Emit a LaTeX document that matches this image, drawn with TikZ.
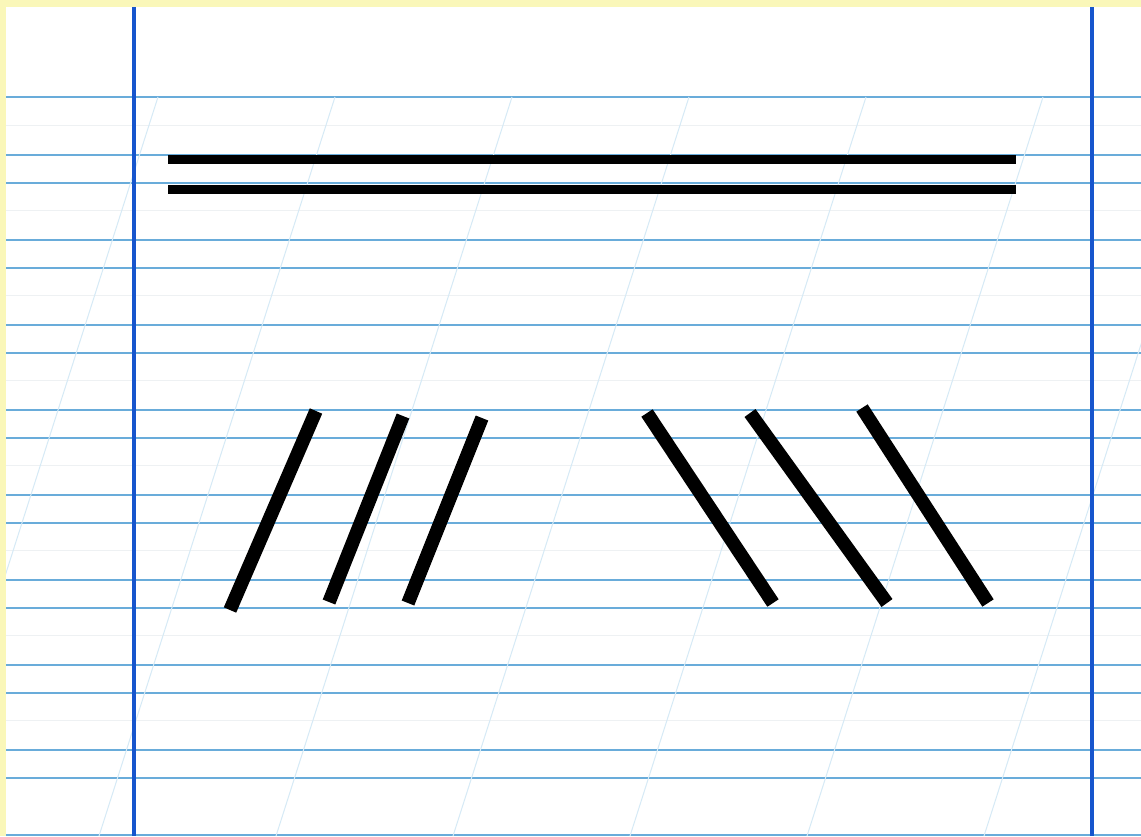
\documentclass[tikz,border=0pt]{standalone}

\definecolor{amarillo}{RGB}{250,247,185}
\definecolor{azulrenglon}{RGB}{105,172,218}
\definecolor{azulmargen}{RGB}{22,85,205}
\definecolor{azuldiagonal}{RGB}{214,234,246}
\definecolor{grisrenglon}{RGB}{238,241,243}

\tikzset{
	renglon/.style={draw=azulrenglon, line width=1.6pt},
	tenue/.style={draw=grisrenglon, line width=1pt},
	margen/.style={draw=azulmargen, line width=3.2pt},
	diagonal/.style={draw=azuldiagonal, line width=1pt},
	raya/.style={draw=black, line width=9pt, line cap=butt},
	trazo/.style={draw=black, line width=13.5pt, line cap=butt}
}

\begin{document}
\begin{tikzpicture}[x=1pt, y=-1pt]

\useasboundingbox (0,0) rectangle (1141,836);
\fill[amarillo] (0,0) rectangle (1141,836);
\fill[white] (6,7) rectangle (1141,836);

\begin{scope}
\clip (6,7) rectangle (1141,836);

% Renglones
	\foreach \y in {125, 210, ..., 720}
		\draw[tenue] (6,\y) -- (1141,\y);

	\draw[renglon] (6,97) -- (1141,97);
	\foreach \y in {155, 240, ..., 750} {
		\draw[renglon] (6,\y) -- (1141,\y);
		\draw[renglon] (6,\y+28) -- (1141,\y+28);
	}
	\draw[renglon] (6,835) -- (1141,835);

% Inclinadas
	\foreach \x in {158, 335, ..., 1220}
		\draw[diagonal] (\x,97) -- (\x-236,836);

% Margenes
	\draw[margen] (134,7) -- (134,836);
	\draw[margen] (1092,7) -- (1092,836);
\end{scope}

% Trazos
	\draw[raya] (168,159) -- (1016,159);
	\draw[raya] (168,189) -- (1016,189);

	\foreach \xa/\ya/\xb/\yb in {316/411/230/610, 403/416/329/602, 482/418/408/603}
		\draw[trazo] (\xa,\ya) -- (\xb,\yb);

	\foreach \xa/\ya/\xb/\yb in {647/413/773/603, 750/413/887/603, 862/408/988/603}
		\draw[trazo] (\xa,\ya) -- (\xb,\yb);

\end{tikzpicture}
\end{document}
